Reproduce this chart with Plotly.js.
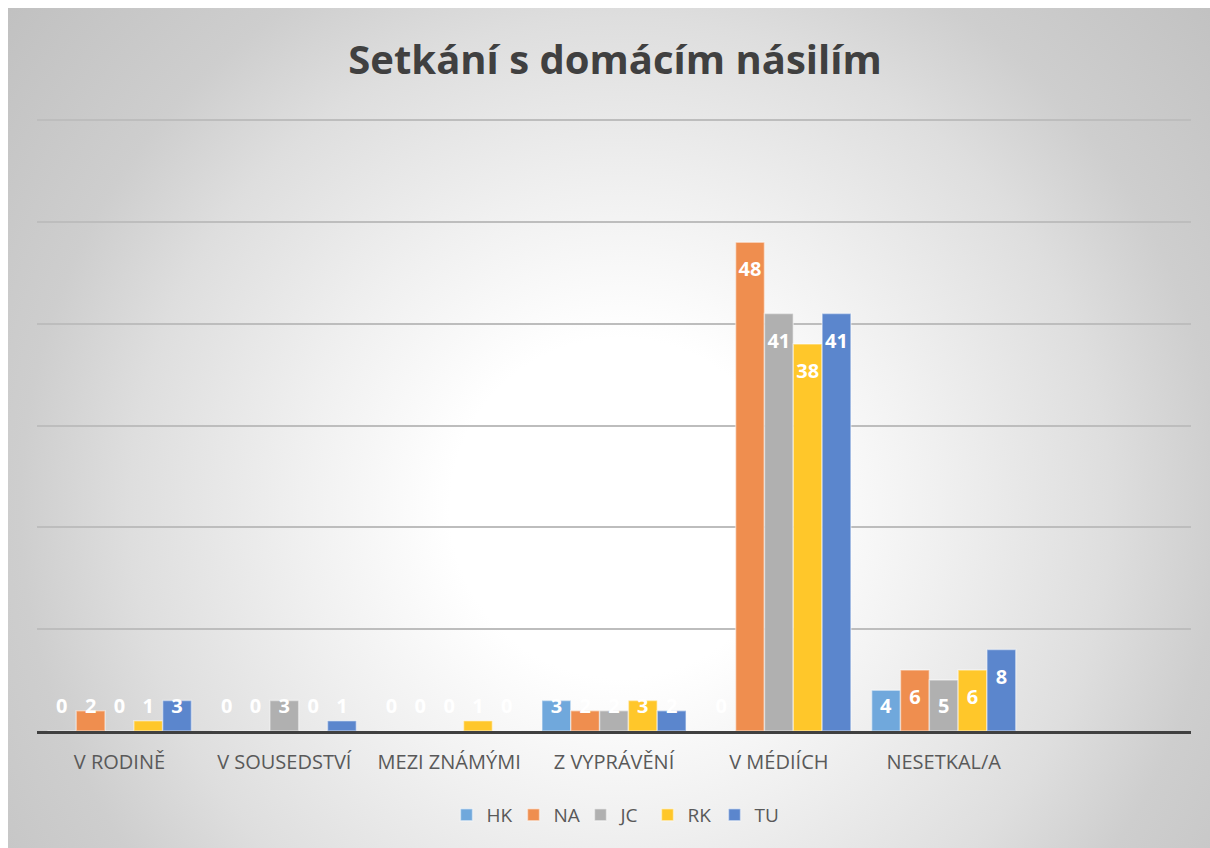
<!DOCTYPE html>
<html>
<head>
<meta charset="utf-8">
<script src="https://cdn.plot.ly/plotly-3.0.1.min.js"></script>
<style>
  html, body { margin: 0; padding: 0; background: #ffffff; }
  #wrap {
    position: absolute; left: 8px; top: 8px; width: 1202px; height: 840px;
    background: radial-gradient(circle at 612px 500px, #ffffff 0px, #ffffff 170px, #f0f0f0 320px, #dedede 490px, #cecece 600px, #c0c0c0 800px);
  }
  #chart { width: 1202px; height: 840px; }
</style>
</head>
<body>
<div id="wrap"><div id="chart"></div></div>
<script>
const categories = ["V RODINĚ", "V SOUSEDSTVÍ", "MEZI ZNÁMÝMI", "Z VYPRÁVĚNÍ", "V MÉDIÍCH", "NESETKAL/A"];
const seriesNames = ["HK", "NA", "JC", "RK", "TU"];
const HK = [0, 0, 0, 3, 0, 4];
const NA = [2, 0, 0, 2, 48, 6];
const JC = [0, 3, 0, 2, 41, 5];
const RK = [1, 0, 1, 3, 38, 6];
const TU = [3, 1, 0, 2, 41, 8];
const seriesValues = [HK, NA, JC, RK, TU];
const colors = ["#70a8dc", "#ef8e4f", "#b0b0b0", "#ffc72a", "#5b86cd"];

const FONT = "'Open Sans', 'Noto Sans', sans-serif";
const YMAX = 60.6;
const traces = [];

// visible bars
seriesValues.forEach((vals, k) => {
  traces.push({
    type: "bar",
    name: seriesNames[k],
    x: categories,
    y: vals,
    marker: { color: colors[k], line: { color: "rgba(255,255,255,0.45)", width: 1.5 } },
    hoverinfo: "skip",
    xaxis: "x", yaxis: "y"
  });
});

// data labels (white, inside end; kept above baseline for small values like Excel)
seriesValues.forEach((vals, k) => {
  traces.push({
    type: "bar",
    name: seriesNames[k] + " labels",
    showlegend: false,
    x: categories,
    y: vals.map(v => Math.max(v - 1.0, 4.1)),
    text: vals.map(v => String(v)),
    textposition: "inside",
    insidetextanchor: "end",
    constraintext: "none",
    textangle: 0,
    textfont: { color: "#ffffff", size: 20, family: FONT, weight: "bold" },
    marker: { color: "rgba(0,0,0,0)", line: { width: 0 } },
    hoverinfo: "skip",
    xaxis: "x", yaxis: "y2"
  });
});

const layout = {
  width: 1202, height: 840,
  paper_bgcolor: "rgba(0,0,0,0)",
  plot_bgcolor: "rgba(0,0,0,0)",
  margin: { l: 29, r: 19, t: 106, b: 117 },
  barmode: "group",
  bargap: 0.126,
  bargroupgap: 0,
  title: {
    text: "<b>Setkání s domácím násilím</b>",
    font: { family: FONT, size: 40, color: "#404040" },
    x: 0.505, xanchor: "center",
    yref: "container", y: 1 - 52 / 840, yanchor: "middle"
  },
  xaxis: {
    type: "category",
    range: [-0.5, 6.5],
    showline: true, linecolor: "#404040", linewidth: 3,
    ticks: "",
    tickfont: { family: FONT, size: 20, color: "#595959" },
    ticklabelstandoff: 11,
    showgrid: false, zeroline: false, fixedrange: true
  },
  yaxis: {
    range: [0, YMAX], tick0: 0, dtick: 10,
    showticklabels: false, ticks: "",
    showgrid: true, gridcolor: "#bdbdbd", gridwidth: 2,
    zeroline: false, showline: false, fixedrange: true
  },
  yaxis2: {
    range: [0, YMAX], overlaying: "y", visible: false,
    showgrid: false, zeroline: false, fixedrange: true
  },
  showlegend: true,
  legend: {
    orientation: "h",
    x: 0.5, xanchor: "center",
    y: -0.136, yanchor: "middle",
    font: { family: FONT, size: 19, color: "#595959" },
    bgcolor: "rgba(0,0,0,0)",
    entrywidthmode: "pixels",
    entrywidth: 22,
    traceorder: "normal"
  }
};

Plotly.newPlot("chart", traces, layout, { displayModeBar: false, staticPlot: true });
</script>
</body>
</html>
